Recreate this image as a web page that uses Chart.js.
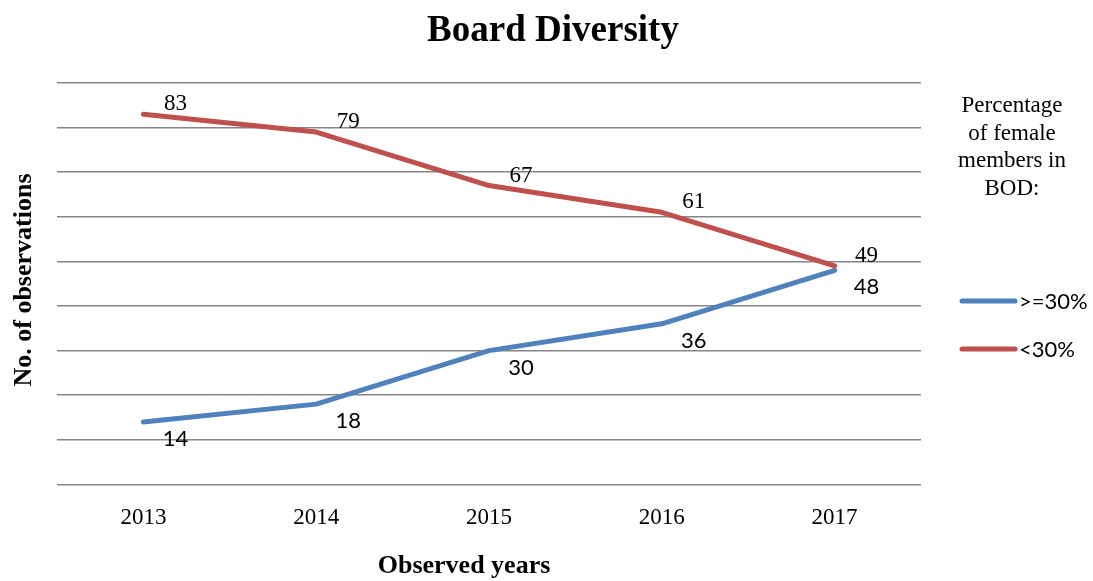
<!DOCTYPE html>
<html>
<head>
<meta charset="utf-8">
<title>Board Diversity</title>
<script src="https://cdn.jsdelivr.net/npm/chart.js@4.4.1/dist/chart.umd.min.js"></script>
<style>
  body { margin: 0; background: #fff; }
  #wrap { width: 1093px; height: 581px; }
</style>
</head>
<body>
<div id="wrap"><canvas id="boardChart" width="1093" height="581"></canvas></div>
<script>
// chart data
const years = ["2013", "2014", "2015", "2016", "2017"];
const above30 = [14, 18, 30, 36, 48]; // >=30% female members
const below30 = [83, 79, 67, 61, 49]; // <30% female members
const legendTitle = ["Percentage", "of female", "members in", "BOD:"];

const BLUE = "#4F81BD";
const RED = "#C0504D";
const SERIF = "'Liberation Serif', 'Times New Roman', serif";
const SANS = "Lato, 'Open Sans', sans-serif";

// draws title, axis titles, legend and point labels
const annotations = {
  id: "annotations",
  afterDatasetsDraw(chart) {
    const ctx = chart.ctx;
    ctx.save();
    ctx.fillStyle = "#000";
    ctx.textAlign = "center";
    ctx.textBaseline = "middle";

    // main title
    ctx.font = "bold 37px " + SERIF;
    ctx.fillText("Board Diversity", 553, 31);

    // axis titles
    ctx.font = "bold 26px " + SERIF;
    ctx.fillText("Observed years", 464, 566);
    ctx.save();
    ctx.translate(24, 280);
    ctx.rotate(-Math.PI / 2);
    ctx.fillText("No. of observations", 0, 0);
    ctx.restore();

    // legend title
    ctx.font = "23px " + SERIF;
    legendTitle.forEach((line, i) => {
      ctx.fillText(line, 1012, 106 + i * 27.5);
    });

    // legend entries
    const entries = [
      { label: ">=30%", color: BLUE, y: 301 },
      { label: "<30%", color: RED, y: 349 },
    ];
    ctx.lineCap = "round";
    ctx.lineWidth = 5;
    entries.forEach((e) => {
      ctx.strokeStyle = e.color;
      ctx.beginPath();
      ctx.moveTo(962, e.y);
      ctx.lineTo(1015, e.y);
      ctx.stroke();
      ctx.textAlign = "left";
      ctx.font = "22px " + SANS;
      ctx.fillText(e.label, 1019, e.y + 1);
    });

    // point labels
    ctx.textAlign = "center";
    chart.data.datasets.forEach((ds, di) => {
      const meta = chart.getDatasetMeta(di);
      const isBlue = ds.borderColor === BLUE;
      ctx.font = isBlue ? "22px " + SANS : "23px " + SERIF;
      meta.data.forEach((pt, i) => {
        const dy = isBlue ? 17 : -10;
        ctx.fillText(String(ds.data[i]), pt.x + 32, pt.y + dy);
      });
    });
    ctx.restore();
  },
};

new Chart(document.getElementById("boardChart"), {
  type: "line",
  data: {
    labels: years,
    datasets: [
      {
        label: "<30%",
        data: below30,
        borderColor: RED,
        backgroundColor: RED,
        borderWidth: 5,
        borderCapStyle: "round",
        borderJoinStyle: "round",
        pointRadius: 0,
        tension: 0,
        fill: false,
      },
      {
        label: ">=30%",
        data: above30,
        borderColor: BLUE,
        backgroundColor: BLUE,
        borderWidth: 5,
        borderCapStyle: "round",
        borderJoinStyle: "round",
        pointRadius: 0,
        tension: 0,
        fill: false,
      },
    ],
  },
  options: {
    responsive: false,
    animation: false,
    layout: {
      padding: { left: 57, right: 172, top: 83, bottom: 37 },
    },
    scales: {
      x: {
        offset: true,
        grid: { display: false },
        border: { display: false },
        ticks: {
          color: "#000",
          padding: 12,
          font: { family: SERIF, size: 23 },
        },
      },
      y: {
        min: 0,
        max: 90,
        ticks: { display: false, stepSize: 10 },
        grid: { color: "#868686", lineWidth: 1.5, drawTicks: false },
        border: { display: false },
      },
    },
    plugins: {
      legend: { display: false },
      title: { display: false },
      tooltip: { enabled: false },
    },
  },
  plugins: [annotations],
});
</script>
</body>
</html>
